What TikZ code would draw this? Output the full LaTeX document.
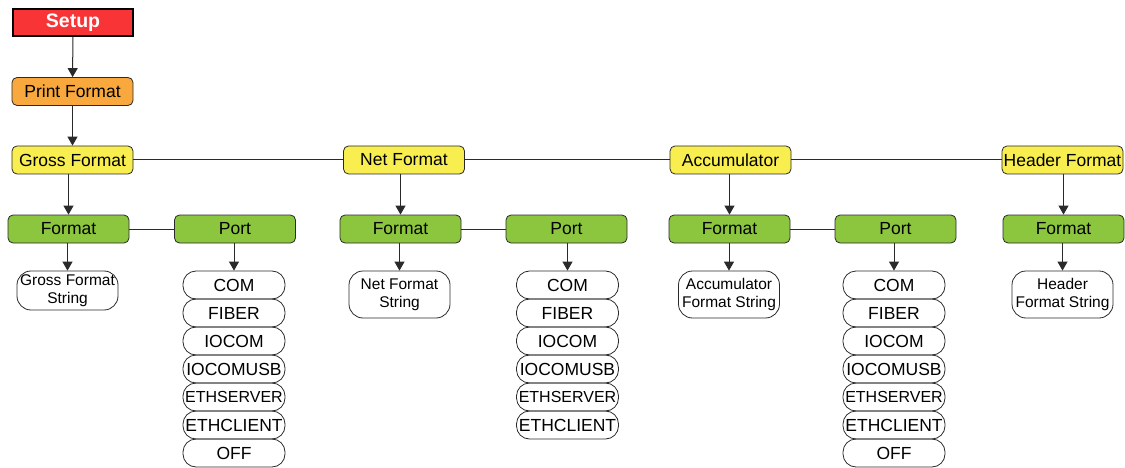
\documentclass[tikz,border=0pt]{standalone}
\usepackage{fontspec}
\setmainfont{Liberation Sans}
\usetikzlibrary{arrows.meta}
\definecolor{cred}{HTML}{F93436}
\definecolor{corange}{HTML}{F8A83C}
\definecolor{cyellow}{HTML}{F8EE4F}
\definecolor{cgreen}{HTML}{8CC63F}
\definecolor{cline}{HTML}{2A2A2A}
\begin{document}
\begin{tikzpicture}[x=1pt,y=-1pt,
  box/.style={draw=cline,line width=0.8pt,rounded corners=5pt,minimum width=121pt,minimum height=28pt,inner sep=0pt,font=\fontsize{17.5}{20}\selectfont},
  setupbox/.style={draw=black,line width=2pt,fill=cred,minimum width=120pt,minimum height=27pt,inner sep=0pt,text=white,font=\fontsize{19.5}{22}\selectfont\bfseries},
  orangebox/.style={box,fill=corange},
  yellowbox/.style={box,fill=cyellow},
  greenbox/.style={box,fill=cgreen},
  strbox/.style={draw=cline,line width=0.8pt,rounded corners=14pt,minimum width=101pt,inner sep=0pt,align=center,font=\fontsize{15.5}{18}\selectfont},
  item/.style={draw=cline,line width=0.8pt,rounded corners=13pt,minimum width=102pt,minimum height=28pt,inner sep=0pt,font=\fontsize{17.5}{20}\selectfont},
  itemsm/.style={item,font=\fontsize{16}{18}\selectfont},
  arr/.style={draw=cline,line width=1pt,-{Triangle[width=10pt,length=9pt]}},
  ln/.style={draw=cline,line width=1pt}]
\useasboundingbox (0,0) rectangle (1125,468);

% top levels
\node[setupbox] (setup) at (73,22.5) {Setup};
\node[orangebox] (print) at (72.5,91.5) {Print Format};

\node[yellowbox] (gross) at (72.5,160) {Gross Format};
\node[yellowbox] (net) at (404,160) {Net Format};
\node[yellowbox] (acc) at (730.5,160) {Accumulator};
\node[yellowbox] (head) at (1062.5,160) {Header Format};

\draw[arr] (setup) -- (print);
\draw[arr] (print) -- (gross);
\draw[ln] (gross) -- (net);
\draw[ln] (net) -- (acc);
\draw[ln] (acc) -- (head);

% green level
\node[greenbox] (gf) at (68.5,229) {Format};
\node[greenbox] (gp) at (235,229) {Port};
\node[greenbox] (nf) at (400.5,229) {Format};
\node[greenbox] (np) at (566.5,229) {Port};
\node[greenbox] (af) at (729.5,229) {Format};
\node[greenbox] (ap) at (895.5,229) {Port};
\node[greenbox] (hf) at (1063.5,229) {Format};

\draw[arr] (gross.south -| gf.north) -- (gf.north);
\draw[arr] (net.south -| nf.north) -- (nf.north);
\draw[arr] (acc.south -| af.north) -- (af.north);
\draw[arr] (head.south -| hf.north) -- (hf.north);
\draw[ln] (gf) -- (gp);
\draw[ln] (nf) -- (np);
\draw[ln] (af) -- (ap);

% format strings
\node[strbox,minimum height=39pt] (gs) at (67.5,290.5) {Gross Format\\String};
\node[strbox,minimum height=47pt] (ns) at (399.5,294.5) {Net Format\\String};
\node[strbox,minimum height=47pt] (as) at (729,294.5) {Accumulator\\Format String};
\node[strbox,minimum height=47pt] (hs) at (1062.5,294.5) {Header\\Format String};

\draw[arr] (gf.south -| gs.north) -- (gs.north);
\draw[arr] (nf.south -| ns.north) -- (ns.north);
\draw[arr] (af.south -| as.north) -- (as.north);
\draw[arr] (hf.south -| hs.north) -- (hs.north);

% port lists
\node[item] (g1) at (234,285) {COM};
\node[item] (g2) at (234,313) {FIBER};
\node[item] (g3) at (234,341) {IOCOM};
\node[item] (g4) at (234,369) {IOCOMUSB};
\node[itemsm] (g5) at (234,397) {ETHSERVER};
\node[item] (g6) at (234,425) {ETHCLIENT};
\node[item] (g7) at (234,453) {OFF};

\node[item] (n1) at (567.5,285) {COM};
\node[item] (n2) at (567.5,313) {FIBER};
\node[item] (n3) at (567.5,341) {IOCOM};
\node[item] (n4) at (567.5,369) {IOCOMUSB};
\node[itemsm] (n5) at (567.5,397) {ETHSERVER};
\node[item] (n6) at (567.5,425) {ETHCLIENT};

\node[item] (a1) at (894,285) {COM};
\node[item] (a2) at (894,313) {FIBER};
\node[item] (a3) at (894,341) {IOCOM};
\node[item] (a4) at (894,369) {IOCOMUSB};
\node[itemsm] (a5) at (894,397) {ETHSERVER};
\node[item] (a6) at (894,425) {ETHCLIENT};
\node[item] (a7) at (894,453) {OFF};

\draw[arr] (gp.south -| g1.north) -- (g1.north);
\draw[arr] (np.south -| n1.north) -- (n1.north);
\draw[arr] (ap.south -| a1.north) -- (a1.north);
\end{tikzpicture}
\end{document}
